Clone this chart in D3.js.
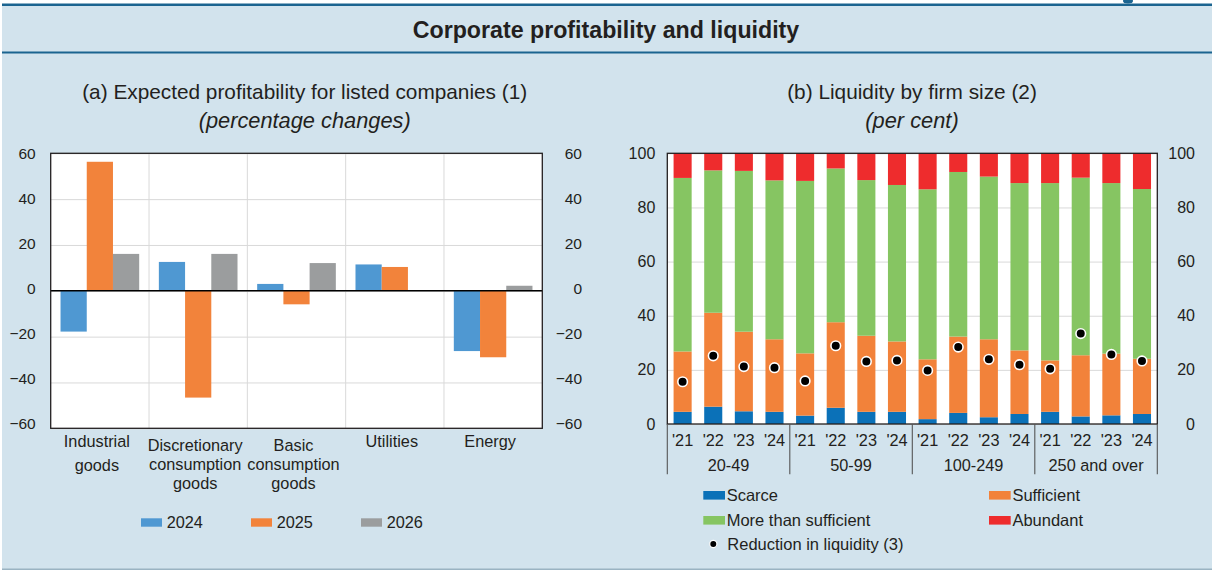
<!DOCTYPE html>
<html>
<head>
<meta charset="utf-8">
<script src="https://d3js.org/d3.v7.min.js"></script>
<style>
  body { margin: 0; background: #fff; }
  svg { display: block; font-family: "Liberation Sans", Arial, Helvetica, sans-serif; }
  text { fill: #231f20; }
</style>
</head>
<body>
<svg id="chart" width="1212" height="570"></svg>
<script>
// ---- panel (a) data: expected profitability, percentage changes
const sectorLabels = [
  ["Industrial", "goods"],
  ["Discretionary", "consumption", "goods"],
  ["Basic", "consumption", "goods"],
  ["Utilities"],
  ["Energy"]
];
const profitYears = ["2024", "2025", "2026"];
const profit2024 = [-17.8, 12.6, 3.0, 11.5, -26.3];
const profit2025 = [56.3, -46.6, -5.9, 10.4, -29.0];
const profit2026 = [16.1, 16.1, 12.1, null, 2.2];
const profitTicks = [-60, -40, -20, 0, 20, 40, 60];

// ---- panel (b) data: liquidity by firm size, per cent
const sizeGroups = ["20-49", "50-99", "100-249", "250 and over"];
const surveyYears = ["'21", "'22", "'23", "'24"];
const scarce = [4.5, 6.4, 4.7, 4.5, 3.1, 6.0, 4.5, 4.5, 1.8, 4.1, 2.5, 3.7, 4.5, 2.8, 3.2, 3.7];
const sufficient = [22.3, 34.7, 29.4, 26.8, 23.0, 31.6, 28.1, 26.0, 22.1, 28.2, 28.8, 23.5, 19.0, 22.6, 22.8, 20.4];
const moreThanSufficient = [64.1, 52.6, 59.4, 58.7, 63.7, 56.8, 57.5, 57.8, 62.8, 60.8, 60.1, 61.8, 65.5, 65.6, 63.0, 62.7];
const abundant = [9.1, 6.3, 6.5, 10.0, 10.2, 5.6, 9.9, 11.7, 13.3, 6.9, 8.6, 11.0, 11.0, 9.0, 11.0, 13.2];
const reductionInLiquidity = [15.6, 25.2, 21.2, 20.8, 15.9, 28.9, 23.1, 23.5, 19.8, 28.4, 23.9, 21.9, 20.4, 33.4, 25.7, 23.3];
const liquidityTicks = [0, 20, 40, 60, 80, 100];

const svg = d3.select("#chart");
const ink = "#231f20";
const gridColor = "#d9d9d9";

// ---- frame
svg.append("rect").attr("x", 2).attr("y", 4).attr("width", 1210).attr("height", 566).attr("fill", "#d2e3ed");
svg.append("rect").attr("x", 2).attr("y", 3.5).attr("width", 1210).attr("height", 2.5).attr("fill", "#1b6490");
svg.append("rect").attr("x", 2).attr("y", 51.5).attr("width", 1210).attr("height", 2).attr("fill", "#1b6490");
svg.append("rect").attr("x", 2).attr("y", 568.5).attr("width", 1210).attr("height", 1.5).attr("fill", "#9ab3c2");
svg.append("ellipse").attr("cx", 1128).attr("cy", 1).attr("rx", 5).attr("ry", 2.5).attr("fill", "#1b6490");

svg.append("text").attr("x", 606).attr("y", 38.3).attr("text-anchor", "middle")
  .attr("font-size", 23.2).attr("font-weight", "bold").text("Corporate profitability and liquidity");

// ================= panel (a) =================
const aLeft = 50.7, aRight = 542.3, aTop = 153.3, aBottom = 428.3;
const sectorNames = sectorLabels.map(d => d.join(" "));
const xA = d3.scaleBand().domain(sectorNames).range([aLeft, aRight]);
const xYear = d3.scaleBand().domain(profitYears).range([xA.bandwidth() * 0.1, xA.bandwidth() * 0.9]);
const yA = d3.scaleLinear().domain([-60, 60]).range([aBottom, aTop]);
// the tick labels sit a little tighter than the gridlines in the original
const yALabels = d3.scaleLinear().domain([-60, 60]).range([423.3, aTop]);
const profitSeries = [profit2024, profit2025, profit2026];
const profitColors = ["#4f98d2", "#f2833b", "#9b9d9e"];

const pa = svg.append("g");
pa.append("text").attr("x", 304.7).attr("y", 99.2).attr("text-anchor", "middle").attr("font-size", 20.8)
  .text("(a) Expected profitability for listed companies (1)");
pa.append("text").attr("x", 304.7).attr("y", 127.6).attr("text-anchor", "middle").attr("font-size", 21.8)
  .attr("font-style", "italic").text("(percentage changes)");

pa.append("rect").attr("x", aLeft).attr("y", aTop).attr("width", aRight - aLeft).attr("height", aBottom - aTop).attr("fill", "#fff");

// grid
pa.append("g").attr("transform", `translate(${aLeft},0)`)
  .call(d3.axisLeft(yA).tickValues(profitTicks).tickSize(-(aRight - aLeft)).tickFormat(""))
  .call(g => g.select(".domain").remove())
  .selectAll("line").attr("stroke", gridColor);
pa.selectAll(".vgrid").data(sectorNames.slice(1)).enter().append("line")
  .attr("x1", d => xA(d)).attr("x2", d => xA(d)).attr("y1", aTop).attr("y2", aBottom)
  .attr("stroke", gridColor);

// bars
profitSeries.forEach((series, s) => {
  pa.append("g").selectAll("rect")
    .data(series.map((v, i) => ({ v: v, name: sectorNames[i] })).filter(d => d.v !== null))
    .enter().append("rect")
    .attr("x", d => xA(d.name) + xYear(profitYears[s]))
    .attr("width", xYear.bandwidth())
    .attr("y", d => yA(Math.max(0, d.v)))
    .attr("height", d => Math.abs(yA(d.v) - yA(0)))
    .attr("fill", profitColors[s]);
});

pa.append("line").attr("x1", aLeft).attr("x2", aRight).attr("y1", yA(0)).attr("y2", yA(0))
  .attr("stroke", "#000").attr("stroke-width", 1.5);
pa.append("rect").attr("x", aLeft).attr("y", aTop).attr("width", aRight - aLeft).attr("height", aBottom - aTop)
  .attr("fill", "none").attr("stroke", ink).attr("stroke-width", 1.3);

// y labels, both sides
function styleTicks(g, size) {
  g.select(".domain").remove();
  g.attr("font-family", null).attr("font-size", null);
  g.selectAll("text").attr("font-size", size).attr("fill", ink);
}
pa.append("g").attr("transform", `translate(${aLeft},0)`)
  .call(d3.axisLeft(yALabels).tickValues(profitTicks).tickSize(0).tickPadding(15))
  .call(g => styleTicks(g, 15.5));
pa.append("g").attr("transform", "translate(582,0)")
  .call(d3.axisLeft(yALabels).tickValues(profitTicks).tickSize(0).tickPadding(0))
  .call(g => styleTicks(g, 15.5));

// category labels
sectorLabels.forEach((lines, i) => {
  const gap = lines.length > 2 ? 19 : 23.3;
  const top = lines.length > 2 ? 445 : 441.7;
  const t = pa.append("text").attr("text-anchor", "middle").attr("font-size", 16.3);
  lines.forEach((ln, j) => {
    t.append("tspan").attr("x", xA(sectorNames[i]) + xA.bandwidth() / 2 - 3)
      .attr("y", top + j * gap).attr("dy", "0.35em").text(ln);
  });
});

// legend (a)
const legA = pa.append("g").selectAll("g").data(profitYears).enter().append("g")
  .attr("transform", (d, i) => `translate(${141 + i * 110},518.3)`);
legA.append("rect").attr("width", 21).attr("height", 8.4).attr("fill", (d, i) => profitColors[i]);
legA.append("text").attr("x", 25.7).attr("y", 4.4).attr("dy", "0.35em").attr("font-size", 16.3).text(d => d);

// ================= panel (b) =================
const bLeft = 667.3, bRight = 1157.3, bTop = 153.3, bBottom = 424;
const barKeys = [];
sizeGroups.forEach(g => surveyYears.forEach(y => barKeys.push(g + "|" + y)));
const xB = d3.scaleBand().domain(barKeys).range([bLeft, bRight]).paddingInner(0.41).paddingOuter(0.205);
const yB = d3.scaleLinear().domain([0, 100]).range([bBottom, bTop]);
const liqKeys = ["scarce", "sufficient", "more", "abundant"];
const liqLabels = ["Scarce", "Sufficient", "More than sufficient", "Abundant"];
const liqColors = ["#0b71b8", "#f2823a", "#86c562", "#ee2c2d"];
const liqRows = barKeys.map((k, i) => ({
  key: k, scarce: scarce[i], sufficient: sufficient[i], more: moreThanSufficient[i], abundant: abundant[i]
}));
const stacked = d3.stack().keys(liqKeys)(liqRows);

const pb = svg.append("g");
pb.append("text").attr("x", 912).attr("y", 99.2).attr("text-anchor", "middle").attr("font-size", 20.8)
  .text("(b) Liquidity by firm size (2)");
pb.append("text").attr("x", 912).attr("y", 127.6).attr("text-anchor", "middle").attr("font-size", 21.8)
  .attr("font-style", "italic").text("(per cent)");

pb.append("rect").attr("x", bLeft).attr("y", bTop).attr("width", bRight - bLeft).attr("height", bBottom - bTop).attr("fill", "#fff");
pb.append("g").attr("transform", `translate(${bLeft},0)`)
  .call(d3.axisLeft(yB).tickValues(liquidityTicks).tickSize(-(bRight - bLeft)).tickFormat(""))
  .call(g => g.select(".domain").remove())
  .selectAll("line").attr("stroke", gridColor);

pb.append("g").selectAll("g").data(stacked).enter().append("g")
  .attr("fill", (d, i) => liqColors[i])
  .selectAll("rect").data(d => d).enter().append("rect")
  .attr("x", d => xB(d.data.key))
  .attr("width", xB.bandwidth())
  .attr("y", d => yB(d[1]))
  .attr("height", d => yB(d[0]) - yB(d[1]));

pb.append("g").selectAll("circle").data(reductionInLiquidity).enter().append("circle")
  .attr("cx", (d, i) => xB(barKeys[i]) + xB.bandwidth() / 2)
  .attr("cy", d => yB(d))
  .attr("r", 4.8)
  .attr("fill", "#000").attr("stroke", "#fff").attr("stroke-width", 1.6);

pb.append("rect").attr("x", bLeft).attr("y", bTop).attr("width", bRight - bLeft).attr("height", bBottom - bTop)
  .attr("fill", "none").attr("stroke", ink).attr("stroke-width", 1.3);

pb.append("g").attr("transform", `translate(${bLeft},0)`)
  .call(d3.axisLeft(yB).tickValues(liquidityTicks).tickSize(0).tickPadding(12))
  .call(g => styleTicks(g, 16));
pb.append("g").attr("transform", "translate(1195,0)")
  .call(d3.axisLeft(yB).tickValues(liquidityTicks).tickSize(0).tickPadding(0))
  .call(g => styleTicks(g, 16));

// x axis: years, then size groups
pb.append("g").attr("transform", `translate(0,${bBottom})`)
  .call(d3.axisBottom(xB).tickSize(0).tickPadding(10).tickFormat(k => k.split("|")[1]))
  .call(g => styleTicks(g, 16.3));
const groupStep = xB.step() * surveyYears.length;
pb.append("g").selectAll("line").data(d3.range(sizeGroups.length + 1)).enter().append("line")
  .attr("x1", i => bLeft + i * groupStep).attr("x2", i => bLeft + i * groupStep)
  .attr("y1", bBottom).attr("y2", 474.3)
  .attr("stroke", "#555").attr("stroke-width", 1.1);
pb.append("g").selectAll("text").data(sizeGroups).enter().append("text")
  .attr("x", (d, i) => bLeft + (i + 0.5) * groupStep).attr("y", 465.7).attr("dy", "0.35em")
  .attr("text-anchor", "middle").attr("font-size", 16.3).text(d => d);

// legend (b)
const legPos = [[703.3, 491], [989, 491], [703.3, 516], [989, 516]];
const legB = pb.append("g").selectAll("g").data(liqLabels).enter().append("g")
  .attr("transform", (d, i) => `translate(${legPos[i][0]},${legPos[i][1]})`);
legB.append("rect").attr("width", 21.7).attr("height", 8.6).attr("fill", (d, i) => liqColors[i]);
legB.append("text").attr("x", 23.4).attr("y", 4).attr("dy", "0.35em").attr("font-size", 16.5).text(d => d);
pb.append("circle").attr("cx", 713.3).attr("cy", 544).attr("r", 3.6)
  .attr("fill", "#000").attr("stroke", "#fff").attr("stroke-width", 1.2);
pb.append("text").attr("x", 727.3).attr("y", 544).attr("dy", "0.35em").attr("font-size", 16.5)
  .text("Reduction in liquidity (3)");
</script>
</body>
</html>
